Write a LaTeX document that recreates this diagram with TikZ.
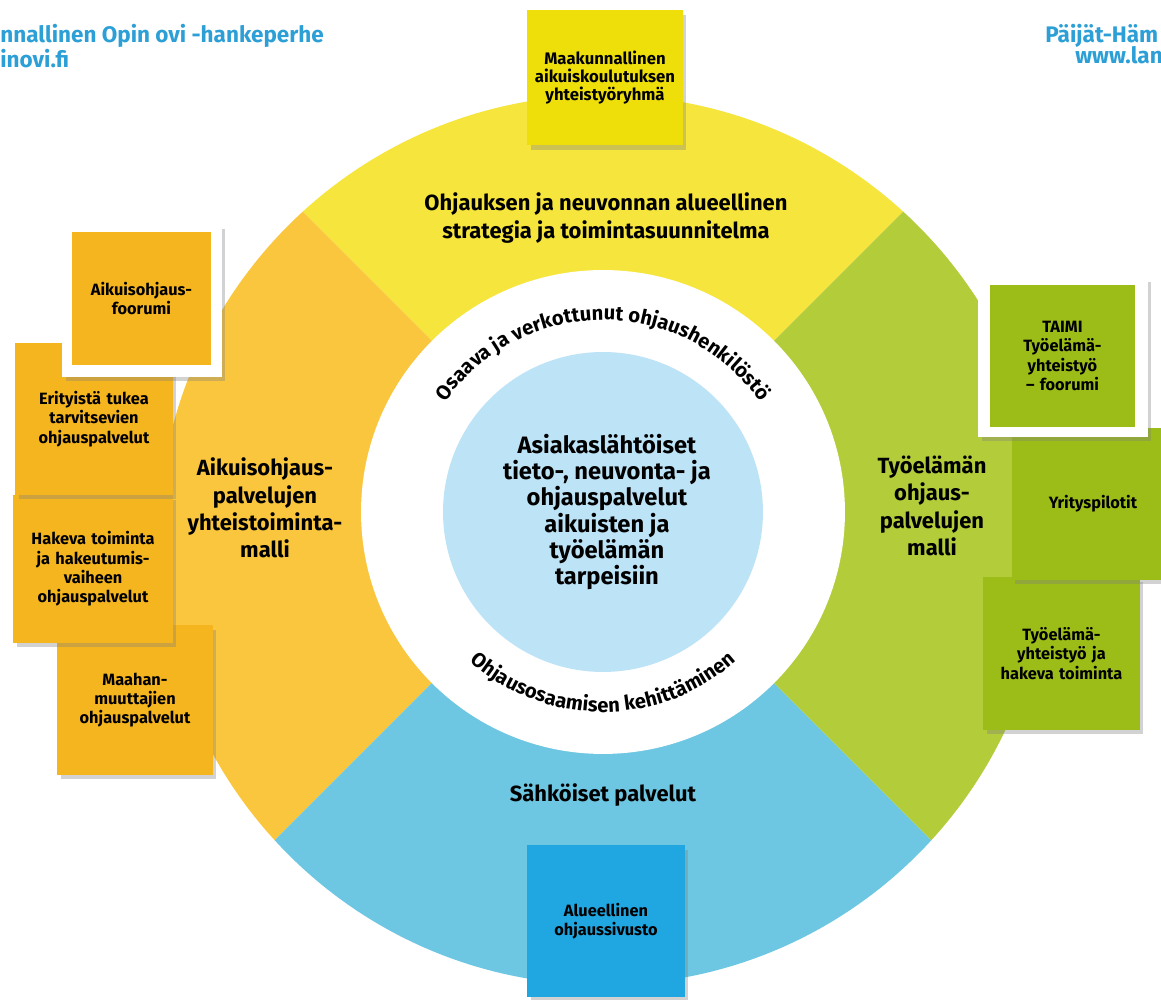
\documentclass[tikz,border=0pt]{standalone}
\usepackage{fontspec}
\setmainfont{Fira Sans}
\usetikzlibrary{positioning, shadows, decorations.text, calc}

\definecolor{segyellow}{HTML}{F6E53C}
\definecolor{segorange}{HTML}{F9C63E}
\definecolor{seggreen}{HTML}{B3CC3A}
\definecolor{segblue}{HTML}{6DC7E2}
\definecolor{corelight}{HTML}{BDE3F6}
\definecolor{boxyellow}{HTML}{EEDF0A}
\definecolor{boxorange}{HTML}{F5B51F}
\definecolor{boxgreen}{HTML}{9CBD17}
\definecolor{boxblue}{HTML}{20A6E0}
\definecolor{hdrblue}{HTML}{2C9FD6}

\newcommand\ringfont{\bfseries\fontsize{11.5}{13}\selectfont}

\begin{document}
\begin{tikzpicture}[
    x = 0.02cm, y = 0.02cm,
    card/.style = {rectangle, inner sep=0pt, align=center, text width=2.9cm, minimum width=3.15cm, minimum height=3.04cm, font=\bfseries\fontsize{9.3}{11}\selectfont},
    shadowed/.style = {drop shadow={shadow xshift=0.07cm, shadow yshift=-0.09cm, opacity=0.35}},
    frame/.style = {rectangle, fill=white, shadowed},
    heading/.style = {align=center, font=\bfseries\fontsize{12.5}{15.5}\selectfont},
    header/.style = {text=hdrblue, inner sep=0pt, font=\bfseries\fontsize{12.8}{12.8}\selectfont}
]
\clip (0,0) rectangle (1161,1000);
\fill[white] (0,0) rectangle (1161,1000);

\coordinate (C) at (603,488);
\coordinate (O) at (603,460);

% Segments
\begin{scope}
    \clip (O) circle[radius=8.9cm];
    \fill[segyellow] (C) -- ($(C)+(45:14cm)$) -- ($(C)+(135:14cm)$) -- cycle;
    \fill[segorange] (C) -- ($(C)+(135:14cm)$) -- ($(C)+(225:14cm)$) -- cycle;
    \fill[segblue] (C) -- ($(C)+(225:14cm)$) -- ($(C)+(315:14cm)$) -- cycle;
    \fill[seggreen] (C) -- ($(C)+(315:14cm)$) -- ($(C)+(45:14cm)$) -- cycle;
\end{scope}
\fill[white] (C) circle[radius=4.84cm];
\fill[corelight] (C) circle[radius=3.2cm];

% Ring texts
\path[decorate, decoration={text along path, text align=center,
    text={|\ringfont|Osaava ja verkottunut ohjaushenkilöstö}}]
    ($(C)+(165:3.84cm)$) arc[start angle=165, end angle=15, radius=3.84cm];
\path[decorate, decoration={text along path, text align=center,
    text={|\ringfont|Ohjausosaamisen kehittäminen}}]
    ($(C)+(200:4.0cm)$) arc[start angle=200, end angle=340, radius=4.0cm];

% Segment titles
\node[heading, font=\bfseries\fontsize{13.5}{15}\selectfont] (core) at (607,488) {Asiakaslähtöiset\\tieto-, neuvonta- ja\\ohjauspalvelut\\aikuisten ja\\työelämän\\tarpeisiin};
\node[heading] (strategy) at (606,782) {Ohjauksen ja neuvonnan alueellinen\\strategia ja toimintasuunnitelma};
\node[heading] (adultmodel) at (265,492) {Aikuisohjaus-\\palvelujen\\yhteistoiminta-\\malli};
\node[heading] (workmodel) at (932,494) {Työelämän\\ohjaus-\\palvelujen\\malli};
\node[heading] (eservices) at (603,205) {Sähköiset palvelut};

% Top and bottom cards
\node[card, shadowed, fill=boxyellow, minimum width=3.12cm, minimum height=2.7cm,
    font=\bfseries\fontsize{9.5}{10.2}\selectfont] (workgroup) at (605,922) {Maakunnallinen\\aikuiskoulutuksen\\yhteistyöryhmä};
\node[card, shadowed, fill=boxblue, minimum width=3.16cm] (website) at (606,79) {Alueellinen\\ohjaussivusto};

% Left cards
\node[card, shadowed, fill=boxorange, minimum width=3.12cm, minimum height=3.0cm] (immigrants) at (135,300) {Maahan-\\muuttajien\\ohjauspalvelut};
\node[card, shadowed, fill=boxorange, minimum width=3.2cm, minimum height=2.96cm] (outreach) at (93,431) {Hakeva toiminta\\ja hakeutumis-\\vaiheen\\ohjauspalvelut};
\node[card, shadowed, fill=boxorange, minimum width=3.16cm] (support) at (94,581) {Erityistä tukea\\tarvitsevien\\ohjauspalvelut};
\node[frame, minimum width=3.2cm, minimum height=3.04cm] (forumframe) at (142,699) {};
\node[card, fill=boxorange, minimum width=2.78cm, minimum height=2.66cm, text width=2.6cm] (forum) at (141.5,701.5) {Aikuisohjaus-\\foorumi};

% Right cards
\node[card, shadowed, fill=boxgreen, minimum width=3.14cm, minimum height=3.06cm] (worklife) at (1061.5,346.5) {Työelämä-\\yhteistyö ja\\hakeva toiminta};
\node[card, shadowed, fill=boxgreen, minimum width=3.26cm] (pilots) at (1093,496) {Yrityspilotit};
\node[frame, minimum width=3.4cm, minimum height=3.2cm] (taimiframe) at (1063,643) {};
\node[card, fill=boxgreen, minimum width=2.9cm, minimum height=2.84cm, text width=2.7cm] (taimi) at (1062.5,644) {TAIMI\\Työelämä-\\yhteistyö\\– foorumi};

% Headers
\node[header, anchor=north west, align=left, font=\bfseries\fontsize{12.8}{12.6}\selectfont] (hdrleft) at (0,976) {nnallinen Opin ovi -hankeperhe\\inovi.fi};
\node[header, anchor=north west] (hdrright) at (1045,976) {Päijät-Häm};
\node[header, anchor=north west] (hdrweb) at (1075,954) {www.lan};
\end{tikzpicture}
\end{document}
